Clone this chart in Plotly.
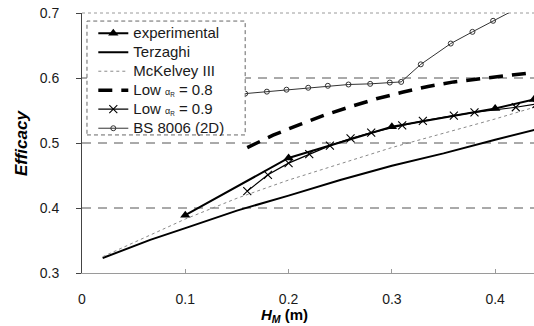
import plotly.graph_objects as go

# Efficacy versus mattress height H_M
exp_x = [0.1, 0.2, 0.3, 0.4, 0.4375]
exp_y = [0.389, 0.477, 0.525, 0.553, 0.567]

terz_x = [0.02, 0.066, 0.1, 0.15, 0.2, 0.25, 0.3, 0.35, 0.4, 0.44]
terz_y = [0.323, 0.351, 0.369, 0.396, 0.419, 0.443, 0.465, 0.484, 0.505, 0.521]

mck_x = [0.02, 0.066, 0.1, 0.15, 0.2, 0.25, 0.3, 0.35, 0.4, 0.44]
mck_y = [0.325, 0.358, 0.383, 0.415, 0.443, 0.468, 0.493, 0.515, 0.537, 0.556]

low08_x = [0.16, 0.185, 0.21, 0.235, 0.26, 0.285, 0.31, 0.335, 0.36, 0.385, 0.41, 0.44]
low08_y = [0.493, 0.512, 0.528, 0.543, 0.556, 0.568, 0.578, 0.587, 0.594, 0.599, 0.603, 0.609]

low09_x = [0.16, 0.18, 0.2, 0.22, 0.24, 0.26, 0.28, 0.31, 0.33, 0.36, 0.38, 0.42, 0.44]
low09_y = [0.426, 0.451, 0.469, 0.483, 0.496, 0.507, 0.516, 0.527, 0.534, 0.542, 0.547, 0.555, 0.560]

bs_x = [0.158, 0.179, 0.198, 0.219, 0.238, 0.258, 0.279, 0.298, 0.309, 0.328, 0.357, 0.378, 0.398, 0.42]
bs_y = [0.576, 0.579, 0.582, 0.585, 0.588, 0.590, 0.591, 0.593, 0.594, 0.621, 0.653, 0.671, 0.688, 0.706]

grid_levels = [0.4, 0.5, 0.6]
x_ticks = [0, 0.1, 0.2, 0.3, 0.4]
y_ticks = [0.3, 0.4, 0.5, 0.6, 0.7]

FONT = "Liberation Sans, Arial, sans-serif"


def entry(label):
    # legend rows are spaced from the small base font; the label itself is drawn larger
    return f"<span style='font-size:15px'>{label}</span>"


alpha_r = "<span style='font-size:9px'>α<sub>R</sub></span>"

fig = go.Figure()

fig.add_trace(go.Scatter(
    x=exp_x, y=exp_y, name=entry("experimental"), mode="lines+markers",
    line=dict(color="black", width=2),
    marker=dict(symbol="triangle-up", size=9, color="black"),
))
fig.add_trace(go.Scatter(
    x=terz_x, y=terz_y, name=entry("Terzaghi"), mode="lines",
    line=dict(color="black", width=2),
))
fig.add_trace(go.Scatter(
    x=mck_x, y=mck_y, name=entry("McKelvey III"), mode="lines",
    line=dict(color="#8a8a8a", width=1, dash="dot"),
))
fig.add_trace(go.Scatter(
    x=low08_x, y=low08_y, mode="lines",
    name=entry(f"Low {alpha_r} = 0.8"),
    line=dict(color="black", width=3.5, dash="14px,9px"),
))
fig.add_trace(go.Scatter(
    x=low09_x, y=low09_y, mode="lines+markers",
    name=entry(f"Low {alpha_r} = 0.9"),
    line=dict(color="black", width=1.2),
    marker=dict(symbol="x-thin", size=8, color="black",
                line=dict(width=1.1, color="black")),
))
fig.add_trace(go.Scatter(
    x=bs_x, y=bs_y, name=entry("BS 8006 (2D)"), mode="lines+markers",
    line=dict(color="#333333", width=1),
    marker=dict(symbol="circle-open", size=5, color="#333333",
                line=dict(width=1, color="#333333")),
))

shapes = []
for g in grid_levels:
    shapes.append(dict(type="line", xref="paper", yref="y", x0=0, x1=1, y0=g, y1=g,
                       line=dict(color="#555555", width=1, dash="9px,7px"), layer="below"))
# dotted frame along the top
shapes.append(dict(type="line", xref="paper", yref="paper", x0=0, x1=1, y0=1, y1=1,
                   line=dict(color="#9a9a9a", width=1, dash="dot"), layer="below"))
# dashed legend frame
shapes.append(dict(type="rect", xref="paper", yref="paper",
                   x0=0.011, x1=0.361, y0=0.531, y1=0.969,
                   line=dict(color="#666666", width=1, dash="4px,3px"),
                   fillcolor="white", layer="above"))

fig.update_layout(
    width=534, height=326,
    margin=dict(l=82, r=0, t=13, b=53),
    paper_bgcolor="white", plot_bgcolor="white",
    font=dict(family=FONT, size=14, color="#1a1a1a"),
    showlegend=True,
    legend=dict(x=0.025, y=0.978, xanchor="left", yanchor="top",
                bgcolor="rgba(0,0,0,0)", borderwidth=0,
                font=dict(family=FONT, size=12, color="#1a1a1a"),
                tracegroupgap=0, itemwidth=30),
    shapes=shapes,
    annotations=[
        dict(text="<b><i>H</i><sub><i>M</i></sub> (m)</b>", xref="paper", yref="paper",
             x=(284 - 82) / 452, y=-0.118, xanchor="center", yanchor="top",
             showarrow=False, font=dict(family=FONT, size=15, color="black")),
        dict(text="<b><i>Efficacy</i></b>", xref="paper", yref="paper",
             x=-0.135, y=0.5, xanchor="center", yanchor="middle", textangle=-90,
             showarrow=False, font=dict(family=FONT, size=17, color="black")),
    ],
)

fig.update_xaxes(
    range=[0, 0.4376], tickvals=x_ticks, ticktext=["0", "0.1", "0.2", "0.3", "0.4"],
    showgrid=False, zeroline=False,
    showline=True, linecolor="#9a9a9a", linewidth=1,
    ticks="inside", ticklen=4, tickcolor="#9a9a9a",
    ticklabelstandoff=13,
)
fig.update_yaxes(
    range=[0.3, 0.7], tickvals=y_ticks, ticktext=["0.3", "0.4", "0.5", "0.6", "0.7"],
    showgrid=False, zeroline=False,
    showline=True, linecolor="#444444", linewidth=1,
    ticks="outside", ticklen=5, tickcolor="#444444",
    ticklabelstandoff=14,
)

fig.write_html("out.html")
